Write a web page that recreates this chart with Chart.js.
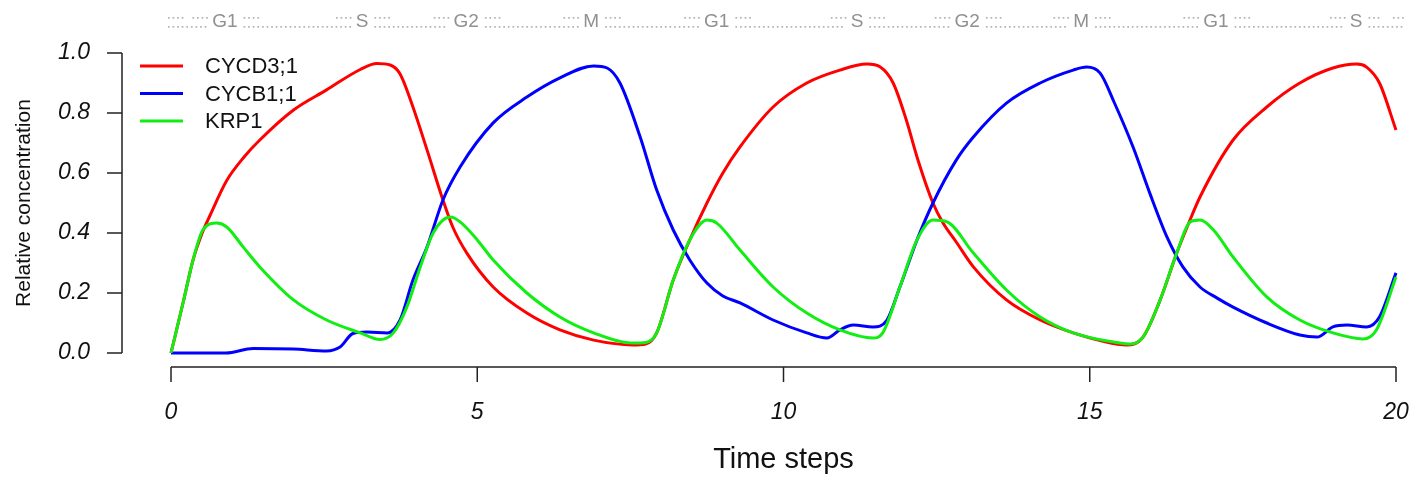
<!DOCTYPE html>
<html><head><meta charset="utf-8">
<script src="https://cdn.jsdelivr.net/npm/chart.js@4.4.1/dist/chart.umd.min.js"></script>
<style>html,body{margin:0;padding:0;background:#fff;}#wrap{width:1414px;height:478px;}</style>
</head><body><div id="wrap"><canvas id="c" width="1414" height="478"></canvas></div>
<script>
const seriesNames = ['CYCD3;1', 'CYCB1;1', 'KRP1'];
const seriesColors = ['#ff0000', '#0000ff', '#11ee11'];

const cycd3T = [0,0.2,0.36,0.5,0.64,0.91,1.2,1.45,2.0,2.54,3.09,3.36,3.58,3.74,3.95,4.18,4.44,4.6,4.83,5.26,5.81,6.35,6.9,7.54,7.75,7.93,8.2,8.47,8.75,9.01,9.29,9.83,10.38,10.92,11.36,11.58,11.79,12.0,12.2,12.44,12.6,12.82,13.1,13.64,14.19,14.73,15.2,15.6,15.87,16.15,16.42,16.59,16.8,17.34,17.89,18.43,18.97,19.36,19.52,19.73,20];
const cycd3V = [0,0.17,0.31,0.395,0.46,0.575,0.655,0.71,0.81,0.877,0.945,0.965,0.96,0.93,0.82,0.677,0.51,0.42,0.333,0.22,0.133,0.077,0.043,0.027,0.03,0.067,0.243,0.377,0.5,0.6,0.687,0.82,0.9,0.943,0.963,0.953,0.9,0.78,0.64,0.5,0.435,0.37,0.287,0.177,0.11,0.067,0.04,0.027,0.053,0.177,0.333,0.42,0.52,0.71,0.82,0.9,0.95,0.963,0.953,0.9,0.743];

const cycb1T = [0,0.9,1.34,2.0,2.54,2.76,2.97,3.2,3.53,3.74,3.95,4.18,4.44,4.72,5.26,5.81,6.35,6.9,7.12,7.33,7.66,7.93,8.2,8.47,8.75,9.01,9.29,9.83,10.38,10.71,10.92,11.14,11.46,11.69,11.9,12.18,12.44,12.82,13.1,13.64,14.19,14.73,14.95,15.17,15.4,15.71,15.98,16.26,16.52,16.8,17.08,17.34,17.89,18.43,18.71,18.97,19.2,19.52,19.73,20];
const cycb1V = [0,0,0.015,0.013,0.007,0.02,0.065,0.07,0.067,0.11,0.243,0.353,0.51,0.62,0.767,0.853,0.917,0.957,0.95,0.9,0.72,0.543,0.41,0.31,0.233,0.19,0.167,0.11,0.067,0.05,0.077,0.093,0.087,0.11,0.22,0.377,0.5,0.643,0.72,0.833,0.9,0.943,0.953,0.933,0.835,0.685,0.533,0.387,0.287,0.22,0.183,0.153,0.1,0.06,0.053,0.087,0.093,0.087,0.12,0.267];

const krp1T = [0,0.2,0.36,0.52,0.75,0.91,1.18,1.45,2.0,2.54,3.09,3.41,3.63,3.85,4.07,4.28,4.56,4.72,5.0,5.26,5.81,6.35,6.9,7.54,7.75,7.93,8.2,8.47,8.75,8.91,9.29,9.83,10.38,10.92,11.46,11.62,11.9,12.18,12.44,12.67,13.1,13.64,14.19,14.73,15.49,15.66,15.87,16.15,16.42,16.64,16.8,17.02,17.34,17.89,18.43,18.97,19.46,19.68,20];
const krp1V = [0,0.17,0.31,0.41,0.433,0.42,0.353,0.287,0.177,0.11,0.067,0.045,0.067,0.153,0.287,0.4,0.453,0.437,0.377,0.31,0.2,0.12,0.067,0.033,0.035,0.067,0.243,0.377,0.443,0.433,0.343,0.22,0.133,0.077,0.05,0.067,0.22,0.377,0.443,0.437,0.333,0.21,0.12,0.067,0.033,0.03,0.053,0.177,0.333,0.437,0.443,0.41,0.32,0.187,0.11,0.067,0.047,0.077,0.253];

const xTicks = [0, 5, 10, 15, 20];
const yTicks = [0, 0.2, 0.4, 0.6, 0.8, 1.0];
const phaseLabels = ['G1', 'S', 'G2', 'M', 'G1', 'S', 'G2', 'M', 'G1', 'S'];
const phaseCenters = [0.88, 3.12, 4.82, 6.86, 8.91, 11.2, 13.0, 14.86, 17.06, 19.35];
const phaseRange = [-0.05, 20.1];

const FONT = "'Liberation Sans', Arial, Helvetica, sans-serif";
Chart.defaults.font.family = FONT;
Chart.defaults.color = '#111';

function pts(t, v) { return t.map((x, i) => ({ x: x, y: v[i] })); }
function noPad(s) { s.paddingTop = 0; s.paddingBottom = 0; s.paddingLeft = 0; s.paddingRight = 0; }

const decor = {
  id: 'decor',
  beforeDatasetsDraw(chart) {
    const ctx = chart.ctx;
    const xs = chart.scales.x, ys = chart.scales.y;
    ctx.save();
    // axes (detached, R style)
    ctx.strokeStyle = '#222';
    ctx.lineWidth = 1.5;
    const ax = chart.chartArea.left - 49;
    ctx.beginPath();
    ctx.moveTo(ax, ys.getPixelForValue(yTicks[yTicks.length - 1]));
    ctx.lineTo(ax, ys.getPixelForValue(yTicks[0]));
    yTicks.forEach(v => { const y = ys.getPixelForValue(v); ctx.moveTo(ax, y); ctx.lineTo(ax - 15, y); });
    const ay = chart.chartArea.bottom + 14;
    ctx.moveTo(xs.getPixelForValue(xTicks[0]), ay);
    ctx.lineTo(xs.getPixelForValue(xTicks[xTicks.length - 1]), ay);
    xTicks.forEach(v => { const x = xs.getPixelForValue(v); ctx.moveTo(x, ay); ctx.lineTo(x, ay + 15); });
    ctx.stroke();

    // legend
    const lx0 = 140, lx1 = 183, ly0 = 66, ldy = 27.5;
    ctx.font = '22px ' + FONT;
    ctx.textAlign = 'left';
    ctx.textBaseline = 'middle';
    chart.data.datasets.forEach((ds, i) => {
      const y = ly0 + i * ldy;
      ctx.strokeStyle = ds.borderColor;
      ctx.lineWidth = 3;
      ctx.beginPath(); ctx.moveTo(lx0, y); ctx.lineTo(lx1, y); ctx.stroke();
      ctx.fillStyle = '#111';
      ctx.fillText(ds.label, 205, y + 1);
    });

    // phase strip
    const py = 22;
    ctx.font = '19px ' + FONT;
    ctx.textAlign = 'center';
    ctx.fillStyle = '#909090';
    const segs = [];
    let prev = xs.getPixelForValue(phaseRange[0]);
    phaseLabels.forEach((lab, i) => {
      const cx = xs.getPixelForValue(phaseCenters[i]);
      const w = ctx.measureText(lab).width;
      ctx.fillText(lab, cx, py);
      segs.push([prev, cx - w / 2 - 6]);
      prev = cx + w / 2 + 6;
    });
    segs.push([prev, xs.getPixelForValue(phaseRange[1])]);
    ctx.fillStyle = '#b3b3b3';
    segs.forEach(([a, b]) => {
      for (let x = a; x <= b; x += 4.6) ctx.fillRect(x, py + 4, 1.7, 1.7);
      const n = Math.min(4, Math.floor((b - a) / 9.2));
      for (let k = 0; k < n; k++) {
        ctx.fillRect(a + k * 4.6, py - 5, 1.7, 1.7);
        ctx.fillRect(b - k * 4.6, py - 5, 1.7, 1.7);
      }
    });
    ctx.restore();
  }
};

const dsBase = { borderWidth: 3, pointRadius: 0, fill: false, cubicInterpolationMode: 'monotone' };

new Chart(document.getElementById('c'), {
  type: 'line',
  data: {
    datasets: [
      Object.assign({ label: seriesNames[0], data: pts(cycd3T, cycd3V), borderColor: seriesColors[0], order: 3 }, dsBase),
      Object.assign({ label: seriesNames[1], data: pts(cycb1T, cycb1V), borderColor: seriesColors[1], order: 2 }, dsBase),
      Object.assign({ label: seriesNames[2], data: pts(krp1T, krp1V), borderColor: seriesColors[2], order: 1 }, dsBase)
    ]
  },
  options: {
    responsive: false,
    animation: false,
    events: [],
    clip: false,
    layout: { autoPadding: false, padding: { top: 53, right: 18, left: 0, bottom: 0 } },
    plugins: { legend: { display: false }, tooltip: { enabled: false } },
    scales: {
      x: {
        type: 'linear', min: 0, max: 20,
        afterBuildTicks: s => { s.ticks = xTicks.map(v => ({ value: v })); },
        afterFit: s => { s.height = 125; noPad(s); },
        grid: { display: false, drawTicks: false },
        border: { display: false },
        ticks: { autoSkip: false, maxRotation: 0, padding: 46, font: { size: 23, style: 'italic' }, color: '#111' },
        title: { display: true, text: 'Time steps', font: { size: 29 }, color: '#111', padding: { top: 0, bottom: 1 } }
      },
      y: {
        type: 'linear', min: 0, max: 1,
        afterBuildTicks: s => { s.ticks = yTicks.map(v => ({ value: v })); },
        afterFit: s => { s.width = 171; noPad(s); },
        grid: { display: false, drawTicks: false },
        border: { display: false },
        ticks: { autoSkip: false, padding: 81, font: { size: 23, style: 'italic' }, color: '#111', callback: v => Number(v).toFixed(1) },
        title: { display: true, text: 'Relative concentration', font: { size: 21 }, color: '#111', padding: { top: 12, bottom: 0 } }
      }
    }
  },
  plugins: [decor]
});
</script></body></html>
